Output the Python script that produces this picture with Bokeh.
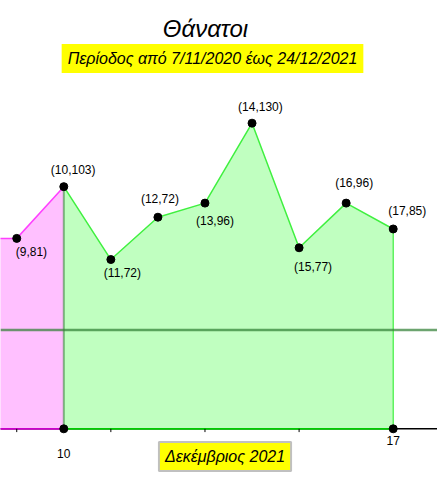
from bokeh.plotting import figure
from bokeh.models import Range1d, Label, Span, ColumnDataSource
from bokeh.embed import file_html
from bokeh.resources import INLINE
from bokeh.core.properties import value

# ---- data ----
days_prev = [8, 9, 10]
deaths_prev = [81, 81, 103]
days = [10, 11, 12, 13, 14, 15, 16, 17]
deaths = [103, 72, 90, 96, 130, 77, 96, 85]
point_days = [9, 10, 11, 12, 13, 14, 15, 16, 17]
point_deaths = [81, 103, 72, 90, 96, 130, 77, 96, 85]
point_labels = ["(9,81)", "(10,103)", "(11,72)", "(12,72)", "(13,96)",
                "(14,130)", "(15,77)", "(16,96)", "(17,85)"]
reference_level = 42
minor_ticks = [9, 11, 13, 15]
axis_label_days = [10, 17]
axis_labels = ["10", "17"]
title_text = "Θάνατοι"
subtitle_text = "Περίοδος από 7/11/2020 έως 24/12/2021"
month_text = "Δεκέμβριος 2021"

# label placement (pixels), styles
label_dx = [-1, -13, -7, -17, -9, -14, -5, -11, -5]
label_dy = [14, -17, 13, -18, 18, -16, 19, -20, -18]
axis_label_dy = [25, 12]

FONT = "Liberation Sans"
W, H = 437, 475

p = figure(width=W, height=H, output_backend="svg", toolbar_location=None,
           x_range=Range1d(8.655, 17.941), y_range=Range1d(-19.86, 182.18),
           min_border=0, outline_line_color=None)
p.xaxis.visible = False
p.yaxis.visible = False
p.grid.visible = False
p.background_fill_color = "white"
p.border_fill_color = "white"

# base axis line
p.add_layout(Span(location=0, dimension="width", line_color="black",
                  line_width=1.5, level="underlay"))

# areas
p.varea(x=days_prev, y1=0, y2=deaths_prev, fill_color="#ffc0ff", fill_alpha=1)
p.varea(x=days, y1=0, y2=deaths, fill_color="#c0ffc0", fill_alpha=1)

# area outlines
p.line(days_prev, deaths_prev, line_color="#ff40ff", line_width=1.5)
p.line(days, deaths, line_color="#40f040", line_width=1.5)
p.line([days_prev[0], days_prev[-1]], [0, 0], line_color="#cc00cc", line_width=1.8)
p.line([days[0], days[-1]], [0, 0], line_color="#00cc00", line_width=1.8)
p.segment(x0=[days[-1]], y0=[0], x1=[days[-1]], y1=[deaths[-1]],
          line_color="#40f040", line_width=1.2)

# reference level line
p.add_layout(Span(location=reference_level, dimension="width",
                  line_color="#2e7d32", line_alpha=0.7, line_width=2.5))
p.segment(x0=[days[0]], y0=[0], x1=[days[0]], y1=[deaths[0]],
          line_color="#2e7d32", line_alpha=0.55, line_width=2)

# minor ticks
p.segment(x0=minor_ticks, y0=[0] * len(minor_ticks), x1=minor_ticks,
          y1=[-1.4] * len(minor_ticks), line_color="black", line_width=1)

# points
p.scatter(point_days, point_deaths, size=8, color="black")
p.scatter(axis_label_days, [0, 0], size=8, color="black")

# point labels
src = ColumnDataSource(dict(x=point_days, y=point_deaths, t=point_labels,
                            dx=label_dx, dy=label_dy))
p.text(x="x", y="y", text="t", x_offset="dx", y_offset="dy", source=src,
       text_font=value(FONT), text_font_size="12px", text_color="black",
       text_align="left", text_baseline="middle")

# axis labels
asrc = ColumnDataSource(dict(x=axis_label_days, y=[0, 0], t=axis_labels,
                             dy=axis_label_dy))
p.text(x="x", y="y", text="t", y_offset="dy", source=asrc,
       text_font=value(FONT), text_font_size="12px", text_color="black",
       text_align="center", text_baseline="middle")

# title and boxes
p.add_layout(Label(x=205, y=447, x_units="screen", y_units="screen",
                   text=title_text, text_font=FONT, text_font_size="24px",
                   text_font_style="italic", text_color="black",
                   text_align="center", text_baseline="alphabetic"))
p.add_layout(Label(x=212, y=417, x_units="screen", y_units="screen",
                   text=subtitle_text, text_font=FONT, text_font_size="16px",
                   text_font_style="italic", text_color="black",
                   text_align="center", text_baseline="middle",
                   background_fill_color="#ffff00", padding=6))
p.add_layout(Label(x=224.5, y=19, x_units="screen", y_units="screen",
                   text=month_text, text_font=FONT, text_font_size="16px",
                   text_font_style="italic", text_color="black",
                   text_align="center", text_baseline="middle",
                   background_fill_color="#ffff00", border_line_color="#c0c0c0",
                   border_line_width=2, padding=6))

open("out.html", "w").write(file_html(p, INLINE))
